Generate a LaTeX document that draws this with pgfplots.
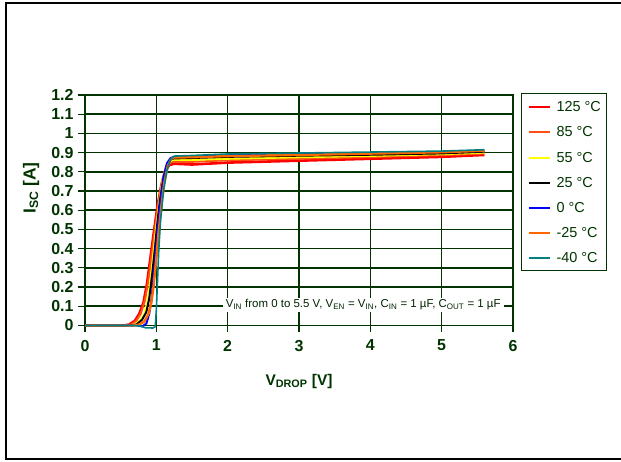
\documentclass[border=0pt]{standalone}
\usepackage{pgfplots}
\pgfplotsset{compat=1.18}
\usepackage{fontspec}
\setmainfont{Liberation Sans}
\definecolor{dg}{RGB}{0,51,0}
\definecolor{c125}{RGB}{255,0,0}
\definecolor{c85}{RGB}{255,80,20}
\definecolor{c55}{RGB}{255,255,0}
\definecolor{c25}{RGB}{0,0,0}
\definecolor{c0}{RGB}{0,0,255}
\definecolor{cm25}{RGB}{255,102,0}
\definecolor{cm40}{RGB}{0,128,128}
\begin{document}
\begin{tikzpicture}
\useasboundingbox (0,0) rectangle (621bp,462bp);
\draw[line width=2bp] (621bp,458.5bp) -- (5.5bp,458.5bp) -- (5.5bp,3bp) -- (621bp,3bp);
\begin{axis}[
  at={(85bp,136.5bp)}, anchor=south west,
  scale only axis, width=428bp, height=230.5bp,
  xmin=0, xmax=6, ymin=0, ymax=1.2,
  xtick={0,1,2,3,4,5,6},
  ytick={0,0.1,0.2,0.3,0.4,0.5,0.6,0.7,0.8,0.9,1,1.1,1.2},
  yticklabels={0,0.1,0.2,0.3,0.4,0.5,0.6,0.7,0.8,0.9,1,1.1,1.2},
  xticklabels={0,1,2,3,4,5,6},
  tick align=outside, major tick length=7bp,
  tick style={dg, line width=1.2bp},
  xtick pos=bottom, ytick pos=left,
  grid=major, major grid style={dg, line width=1.6bp},
  axis line style={dg, line width=1.6bp},
  ticklabel style={font=\bfseries\fontsize{16}{16}\selectfont, text=dg},
  xticklabel style={yshift=-4bp},
  yticklabel style={xshift=-1bp},
  /pgf/number format/assume math mode=true,
  xlabel={\textbf{V\textsubscript{DROP} [V]}},
  ylabel={\textbf{I\textsubscript{SC} [A]}},
  label style={text=dg},
  xlabel style={font=\fontsize{15.5}{15.5}\selectfont, at={(axis description cs:0.5,-0.241)}, anchor=center},
  ylabel style={font=\fontsize{17.5}{17.5}\selectfont, at={(axis description cs:-0.126,0.597)}, anchor=center},
  clip=false,
  legend cell align=left,
  legend image code/.code={\draw[#1, line width=2bp] (0bp,4.5bp) -- (21bp,4.5bp);},
  legend style={draw=dg, line width=1bp, font=\fontsize{14.5}{14.5}\selectfont, text=dg,
    at={(1,1)}, anchor=north west, xshift=8bp, yshift=2bp,
    row sep=15bp, inner xsep=6bp, inner ysep=8bp,
    nodes={inner sep=0pt, text height=10.2bp, text depth=0pt, anchor=base west},
    column sep=6bp},
]
\addplot[c125, line width=2.6bp] coordinates {(0,0)(0.55,0)(0.62,0.005)(0.7,0.025)(0.76,0.06)(0.82,0.12)(0.87,0.22)(0.92,0.36)(0.97,0.5)(1.02,0.63)(1.07,0.73)(1.12,0.8)(1.18,0.835)(1.25,0.842)(1.5,0.838)(2,0.848)(3,0.858)(4,0.868)(5,0.878)(5.6,0.888)};
\addlegendentry{125 °C}
\addplot[c85, line width=2bp] coordinates {(0,0)(0.58,0)(0.65,0.005)(0.72,0.025)(0.78,0.06)(0.84,0.13)(0.89,0.24)(0.94,0.38)(0.98,0.5)(1.03,0.64)(1.08,0.75)(1.13,0.82)(1.19,0.848)(1.25,0.852)(1.5,0.852)(2,0.86)(3,0.868)(4,0.877)(5,0.887)(5.6,0.895)};
\addlegendentry{85 °C}
\addplot[c55, line width=2bp] coordinates {(0,0)(0.62,0)(0.7,0.005)(0.77,0.025)(0.83,0.06)(0.88,0.13)(0.92,0.24)(0.96,0.38)(1.0,0.52)(1.04,0.64)(1.09,0.76)(1.14,0.83)(1.2,0.858)(1.25,0.862)(1.5,0.862)(2,0.868)(3,0.876)(4,0.883)(5,0.892)(5.6,0.9)};
\addlegendentry{55 °C}
\addplot[c25, line width=2bp] coordinates {(0,0)(0.64,0)(0.72,0.005)(0.8,0.03)(0.86,0.07)(0.9,0.14)(0.94,0.26)(0.98,0.4)(1.01,0.52)(1.05,0.65)(1.1,0.77)(1.15,0.84)(1.2,0.865)(1.25,0.87)(1.5,0.872)(2,0.878)(3,0.884)(4,0.889)(5,0.896)(5.6,0.905)};
\addlegendentry{25 °C}
\addplot[c0, line width=2bp] coordinates {(0,0)(0.66,0)(0.74,0)(0.8,-0.005)(0.86,0.01)(0.9,0.06)(0.93,0.13)(0.96,0.25)(0.99,0.38)(1.02,0.52)(1.06,0.66)(1.1,0.77)(1.15,0.845)(1.2,0.872)(1.25,0.878)(1.5,0.88)(2,0.887)(3,0.892)(4,0.898)(5,0.903)(5.6,0.91)};
\addlegendentry{0 °C}
\addplot[cm25, line width=2.4bp] coordinates {(0,0)(0.68,0)(0.76,0.005)(0.83,0.02)(0.89,0.06)(0.93,0.12)(0.96,0.2)(1.0,0.35)(1.03,0.48)(1.07,0.62)(1.11,0.74)(1.16,0.83)(1.21,0.868)(1.25,0.875)(1.5,0.876)(2,0.882)(3,0.888)(4,0.895)(5,0.902)(5.6,0.91)};
\addlegendentry{-25 °C}
\addplot[cm40, line width=1.6bp] coordinates {(0,0)(0.7,0)(0.78,-0.003)(0.85,-0.012)(0.95,-0.013)(0.985,-0.006)(1.0,0.08)(1.015,0.22)(1.035,0.4)(1.06,0.55)(1.1,0.7)(1.15,0.81)(1.2,0.865)(1.25,0.882)(1.5,0.885)(2,0.893)(3,0.898)(4,0.903)(5,0.908)(5.6,0.915)};
\addlegendentry{-40 °C}
\node[fill=white, inner xsep=3bp, inner ysep=2bp, font=\fontsize{11.5}{12}\selectfont, text=dg!70!black] at (axis cs:3.9,0.107) {V\textsubscript{IN} from 0 to 5.5 V, V\textsubscript{EN} = V\textsubscript{IN}, C\textsubscript{IN} = 1 µF, C\textsubscript{OUT} = 1 µF};
\end{axis}
\end{tikzpicture}
\end{document}
